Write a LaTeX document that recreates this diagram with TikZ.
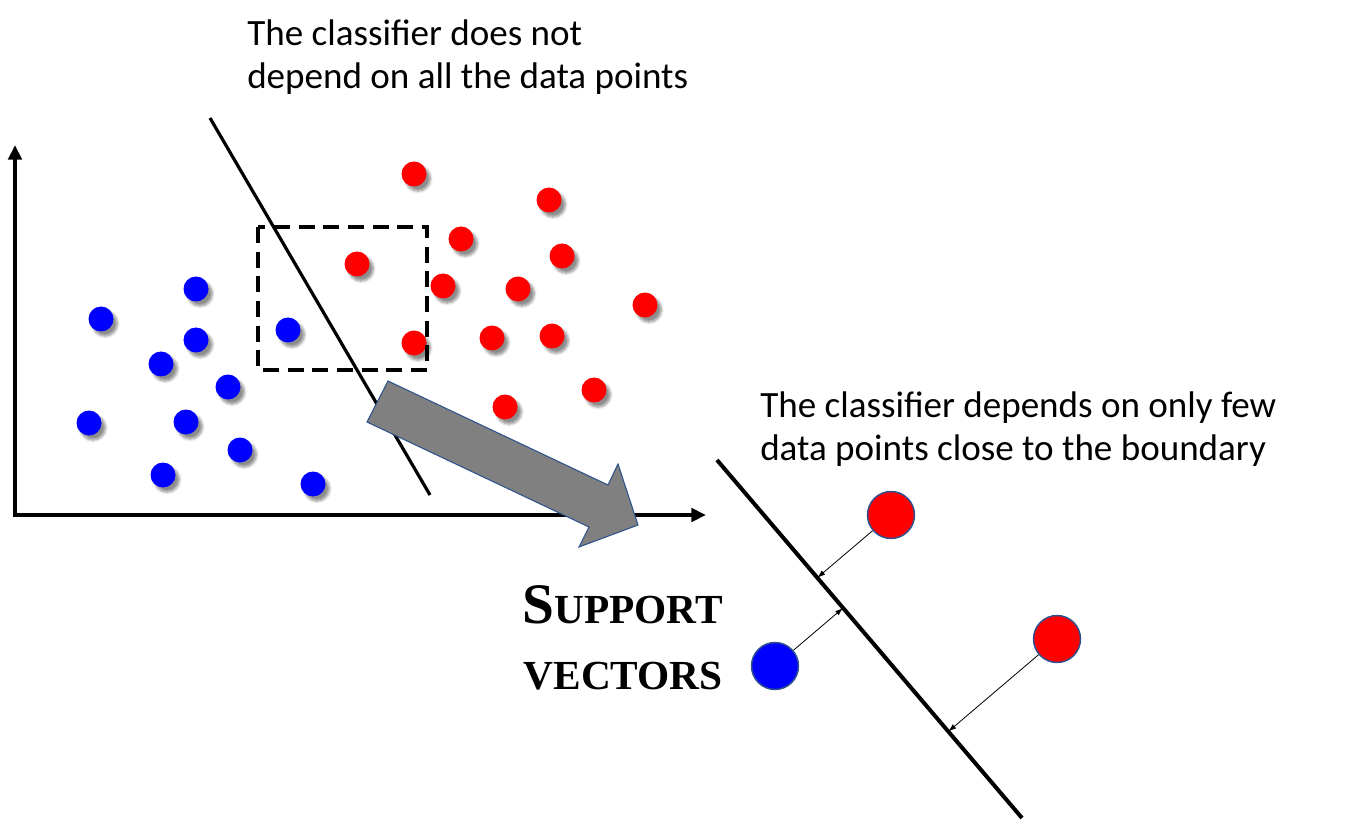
\documentclass[tikz,border=0pt]{standalone}
\usepackage{fontspec}
\setmainfont{Carlito}
\newfontfamily\svfont{Liberation Serif}
\usepackage{tikz}
\usetikzlibrary{calc}
\usetikzlibrary{arrows.meta, shadows.blur}

\definecolor{svedge}{RGB}{47,82,143}
\definecolor{bigarrow}{RGB}{128,128,128}

\tikzset{
  dot/.style={circle, inner sep=0pt, minimum size=18.75pt,
    blur shadow={shadow xshift=3pt, shadow yshift=-3.5pt,
      shadow blur steps=6, shadow opacity=45}},
  reddot/.style={dot, fill=red},
  bluedot/.style={dot, fill=blue},
  svdot/.style={circle, inner sep=0pt, minimum size=35.25pt,
    draw=svedge, line width=1.1pt},
  axis/.style={line width=3pt,
    {Triangle[length=11pt,width=10pt]}-{Triangle[length=11pt,width=10pt]}},
  note/.style={anchor=north west, inner sep=0pt, align=left,
    font=\fontsize{27.8}{32.25}\selectfont},
}

\begin{document}
\begin{tikzpicture}[x=0.75pt, y=-0.75pt, >={Latex[length=6pt,width=4pt]}]
    \useasboundingbox (0,0) rectangle (1363,823);

    % -------------------------------------------------------
    % 1. Axes and the data points
    % -------------------------------------------------------
    \coordinate (O) at (15,515);
    \coordinate (ytop) at (15,145);
    \coordinate (xend) at (706,515);
    \draw[axis] (ytop) -- (O) -- (xend);

    \foreach \x/\y [count=\i] in {414/174, 549/200, 461/239, 357/264,
        562/256, 443/286, 518/289, 645/305, 414/343, 492/338,
        552/336, 594/390, 505/407} {
      \node[reddot] (r\i) at (\x,\y) {};
    }
    \foreach \x/\y [count=\i] in {196/289, 101/319, 288/330, 196/340,
        161/364, 228/387, 89/423, 186/422, 240/450, 163/475, 313/484} {
      \node[bluedot] (b\i) at (\x,\y) {};
    }

    % classifier and the zoomed region
    \coordinate (c1) at (210,118);
    \coordinate (c2) at (430,495);
    \draw[line width=2.4pt] (c1) -- (c2);
    \draw[line width=3pt, dash pattern=on 12pt off 6.5pt]
      (258,227) rectangle (427,370);

    % -------------------------------------------------------
    % 2. Big gray arrow
    % -------------------------------------------------------
    \filldraw[fill=bigarrow, draw=svedge, line width=0.8pt]
      (388,381) -- (608,485) -- (618,464) -- (638,525)
      -- (579,547) -- (589,527) -- (367,422) -- cycle;

    % -------------------------------------------------------
    % 3. Support vectors close to the boundary
    % -------------------------------------------------------
    \coordinate (l1) at (717,460);
    \coordinate (l2) at (1022,818);
    \draw[line width=3pt] (l1) -- (l2);

    \node[svdot, fill=red] (s1) at (891,515) {};
    \node[svdot, fill=red] (s2) at (1057,639) {};
    \node[svdot, fill=blue] (s3) at (775,666) {};
    \foreach \s in {s1, s2, s3} {
      \draw[->, line width=0.6pt] (\s) -- ($(l1)!(\s)!(l2)$);
    }

    % -------------------------------------------------------
    % 4. Texts
    % -------------------------------------------------------
    \node[note] (top note) at (247,20)
      {The classifier does not\\depend on all the data points};
    \node[note] (right note) at (760,391)
      {The classifier depends on only few\\data points close to the boundary};
    \node[anchor=north east, inner sep=0pt, align=right,
      font=\svfont\bfseries\fontsize{31}{49.5}\selectfont] (sv) at (723,585)
      {{\fontsize{43}{49.5}\selectfont S}UPPORT\\VECTORS};
\end{tikzpicture}
\end{document}
